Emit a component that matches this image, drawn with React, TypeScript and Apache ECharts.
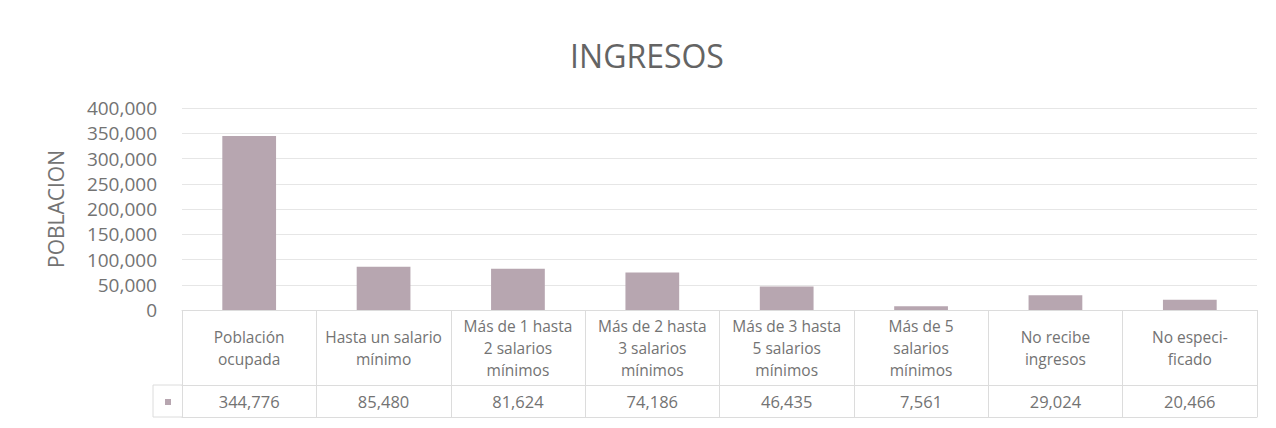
import React, { useEffect, useRef } from "react";
import * as echarts from "echarts";

const title = "INGRESOS";
const yAxisName = "POBLACION";
const categories = [
  "Población\nocupada",
  "Hasta un salario\nmínimo",
  "Más de 1 hasta\n2 salarios\nmínimos",
  "Más de 2 hasta\n3 salarios\nmínimos",
  "Más de 3 hasta\n5 salarios\nmínimos",
  "Más de 5\nsalarios\nmínimos",
  "No recibe\ningresos",
  "No especi-\nficado",
];
const values = [344776, 85480, 81624, 74186, 46435, 7561, 29024, 20466];
const yTicks = { min: 0, max: 400000, interval: 50000 };

const FONT = "'Open Sans', 'Noto Sans', sans-serif";
const TEXT = "#737373";
const LINE = "#dcdcdc";
const BAR = "#b7a6b0";

const fmt = (v: number) => v.toLocaleString("en-US");

export default function App() {
  const ref = useRef<HTMLDivElement>(null);
  useEffect(() => {
    if (!ref.current) return;
    const chart = echarts.init(ref.current, null, { renderer: "svg" });
    const gridLeft = 174;
    const gridRight = 11;
    const gridBottom = 118;
    const chartH = 420;
    const axisY = chartH - gridBottom;
    const row1 = 75;
    const row2 = 107;
    chart.setOption({
      animation: false,
      backgroundColor: "#ffffff",
      textStyle: { fontFamily: FONT },
      title: {
        text: title,
        left: 634,
        top: 26,
        textAlign: "center",
        textStyle: { fontFamily: FONT, fontSize: 32, fontWeight: "normal", color: "#646464" },
      },
      grid: { left: gridLeft, right: gridRight, top: 100, bottom: gridBottom },
      legend: {
        show: true,
        left: gridLeft - 17,
        top: axisY + row1 + 14,
        padding: 0,
        icon: "rect",
        itemWidth: 6,
        itemHeight: 6,
        formatter: () => "",
        textStyle: { fontSize: 1 },
        selectedMode: false,
      },
      xAxis: [
        {
          type: "category",
          data: categories,
          position: "bottom",
          axisLine: { show: true, lineStyle: { color: LINE, width: 1 } },
          axisTick: { show: true, length: row2, lineStyle: { color: LINE } },
          axisLabel: {
            interval: 0,
            margin: row1 / 2,
            verticalAlign: "middle",
            fontFamily: FONT,
            fontSize: 15.5,
            lineHeight: 22,
            color: TEXT,
          },
        },
        {
          type: "category",
          data: categories,
          position: "bottom",
          offset: row1,
          axisLine: { show: true, lineStyle: { color: LINE, width: 1 } },
          axisTick: { show: false },
          axisLabel: {
            interval: 0,
            margin: (row2 - row1) / 2,
            verticalAlign: "middle",
            fontFamily: FONT,
            fontSize: 16.5,
            color: TEXT,
            formatter: (_v: string, i: number) => fmt(values[i]),
          },
        },
        {
          type: "category",
          data: categories,
          position: "bottom",
          offset: row2,
          axisLine: { show: true, lineStyle: { color: LINE, width: 1 } },
          axisTick: { show: false },
          axisLabel: { show: false },
        },
      ],
      yAxis: {
        type: "value",
        min: yTicks.min,
        max: yTicks.max,
        interval: yTicks.interval,
        name: yAxisName,
        nameLocation: "middle",
        nameGap: 116,
        nameTextStyle: { fontFamily: FONT, fontSize: 21, color: TEXT },
        axisLine: { show: false },
        axisTick: { show: false },
        axisLabel: {
          margin: 25,
          fontFamily: FONT,
          fontSize: 19,
          color: TEXT,
          formatter: (v: number) => fmt(v),
        },
        splitLine: { show: true, lineStyle: { color: "#e6e6e6", width: 1 } },
      },
      graphic: [
        {
          type: "line",
          shape: { x1: gridLeft - 29, y1: axisY + row1, x2: gridLeft, y2: axisY + row1 },
          style: { stroke: LINE, lineWidth: 1 },
        },
        {
          type: "line",
          shape: { x1: gridLeft - 29, y1: axisY + row2, x2: gridLeft, y2: axisY + row2 },
          style: { stroke: LINE, lineWidth: 1 },
        },
        {
          type: "line",
          shape: { x1: gridLeft - 29, y1: axisY + row1, x2: gridLeft - 29, y2: axisY + row2 },
          style: { stroke: LINE, lineWidth: 1 },
        },
      ],
      series: [
        {
          name: "Población",
          type: "bar",
          data: values,
          barWidth: "40%",
          itemStyle: { color: BAR },
        },
      ],
    });
    return () => chart.dispose();
  }, []);
  return <div ref={ref} style={{ width: 1260, height: 420 }} />;
}
